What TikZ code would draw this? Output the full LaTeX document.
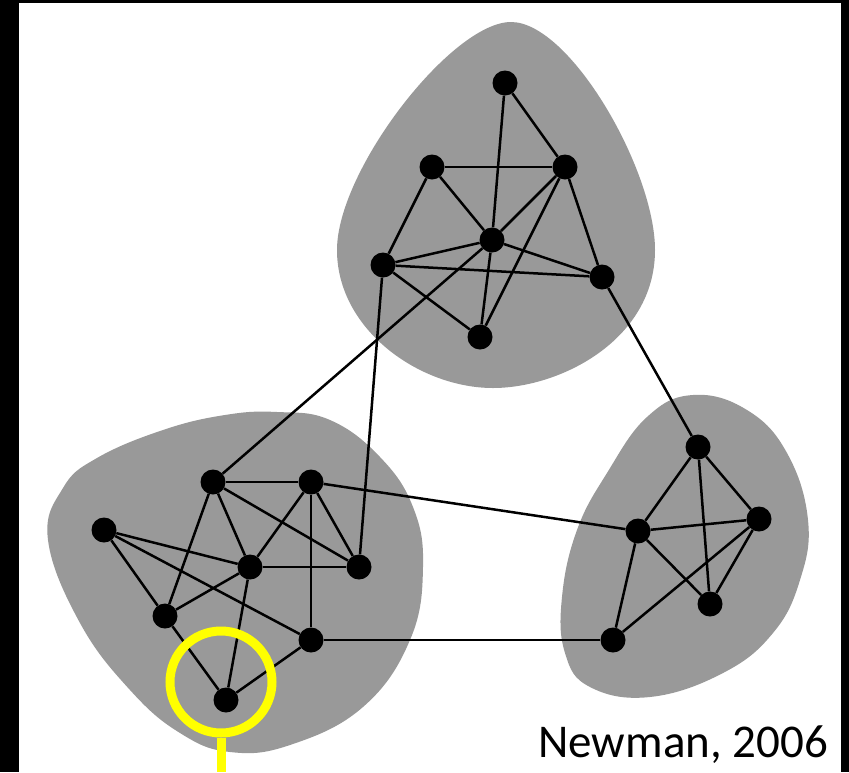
\documentclass[tikz,border=0pt]{standalone}
\usepackage{fontspec}
\setmainfont{Carlito}
\definecolor{blobgray}{RGB}{153,153,153}
\definecolor{mark}{RGB}{255,255,0}
\begin{document}
\begin{tikzpicture}[x=1pt,y=-1pt,
  dot/.style={circle,fill=black,inner sep=0pt,minimum size=25pt},
  edge/.style={line width=2.5pt,black},
  blob/.style={fill=blobgray,draw=none},
  hl/.style={draw=mark,line width=9pt}]
\useasboundingbox (0,0) rectangle (849,772);
\fill[white] (0,0) rectangle (849,772);
\fill[black] (0,0) rectangle (19,772);
\fill[black] (0,0) rectangle (849,3);
\fill[black] (841,0) rectangle (849,772);
% blobs
\fill[blob] (511,22) .. controls (570,22) and (655,170) .. (655,250)
  .. controls (655,340) and (560,388) .. (493,388)
  .. controls (420,388) and (337,330) .. (337,250)
  .. controls (337,170) and (452,22) .. (511,22) -- cycle;
\fill[blob] plot[smooth cycle,tension=0.7] coordinates {(277,412) (330,420) (380,457) (413,507) (423,567) (410,640) (363,707) (290,745) (230,752) (180,733) (130,690) (80,623) (48,540) (63,488) (97,458) (163,430) (225,415)};
\fill[blob] plot[smooth cycle,tension=0.7] coordinates {(693,395) (747,410) (787,453) (808,520) (800,580) (773,633) (723,673) (650,697) (590,687) (565,653) (562,597) (577,530) (607,473) (647,417)};
% nodes top
\node[dot] (t1) at (505,83) {};
\node[dot] (t2) at (432,167) {};
\node[dot] (t3) at (565,167) {};
\node[dot] (t4) at (492,240) {};
\node[dot] (t5) at (383,265) {};
\node[dot] (t6) at (602,277) {};
\node[dot] (t7) at (480,337) {};
% nodes left
\node[dot] (l1) at (213,482) {};
\node[dot] (l2) at (311,482) {};
\node[dot] (l3) at (104,530) {};
\node[dot] (l4) at (250,567) {};
\node[dot] (l5) at (359,567) {};
\node[dot] (l6) at (165,616) {};
\node[dot] (l7) at (311,640) {};
\node[dot] (l8) at (226,700) {};
% nodes right
\node[dot] (r1) at (698,447) {};
\node[dot] (r2) at (638,531) {};
\node[dot] (r3) at (759,519) {};
\node[dot] (r4) at (710,604) {};
\node[dot] (r5) at (613,640) {};
% edges
\foreach \a/\b in {t1/t4,t1/t3,t2/t3,t2/t5,t2/t4,t3/t4,t3/t7,t3/t6,t4/t5,t4/t6,t4/t7,t5/t6,t5/t7,
  t4/l1,t5/l5,t6/r1,
  l1/l2,l1/l6,l1/l4,l1/l5,l2/l4,l2/l5,l2/l7,l3/l4,l3/l6,l3/l7,l4/l5,l4/l6,l4/l8,l6/l8,l7/l8,
  l2/r2,l7/r5,
  r1/r2,r1/r3,r1/r4,r2/r3,r2/r4,r2/r5,r3/r4,r3/r5}
  \draw[edge] (\a) -- (\b);
% highlight
\node[hl,circle,minimum size=102pt,inner sep=0pt] (ring) at (221,682) {};
\coordinate (tail) at (221,772);
\draw[hl] (ring.south) -- (tail);
% label
\node[anchor=base east,font=\fontsize{47pt}{50pt}\selectfont,inner sep=0pt] (cite) at (828,757) {Newman, 2006};
\end{tikzpicture}
\end{document}
